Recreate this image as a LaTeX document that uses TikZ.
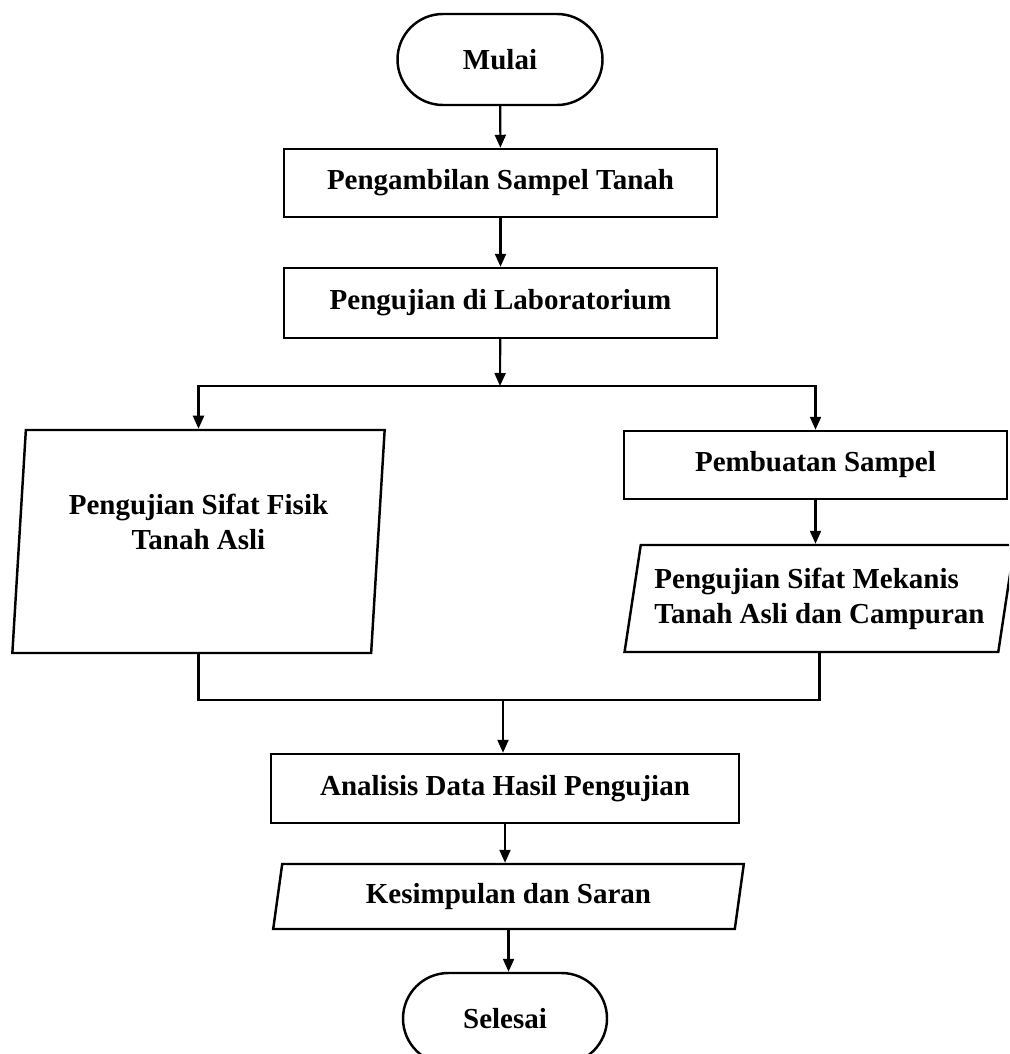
\documentclass[tikz,border=0pt]{standalone}
\usepackage{fontspec}
\setmainfont{Liberation Serif}
\usetikzlibrary{shapes.geometric,shapes.misc,arrows.meta}

\tikzset{
  box/.style={
    draw,
    line width=1.4pt,
    inner sep=0pt,
    font=\fontsize{16.5}{19.8}\selectfont\bfseries
  },
  mulai/.style={
    box,
    rounded rectangle,
    minimum width=41mm,
    minimum height=18.2mm
  },
  proses/.style={
    box,
    rectangle,
    minimum height=13.8mm
  },
  data/.style={
    box,
    trapezium,
    trapezium stretches=true
  },
  alur/.style={
    line width=1.2pt,
    -{Triangle[length=2.6mm,width=2.2mm]}
  }
}

\begin{document}
\begin{tikzpicture}[x=0.2mm,y=-0.2mm]
    \useasboundingbox (0,0) rectangle (1009,1054);
    \clip (0,0) rectangle (1009,1054);
    \node[mulai] at (500,59.5) (mulai) {Mulai};
    \node[proses, minimum width=86.6mm, minimum height=13.6mm] at (500.5,183) (ambil) {Pengambilan Sampel Tanah};
    \node[proses, minimum width=86.6mm, minimum height=14mm] at (500.5,303) (lab) {Pengujian di Laboratorium};
    \node[data, trapezium left angle=83.9, trapezium right angle=96.1,
      minimum width=74.6mm, minimum height=44.6mm, align=center] at (198.5,541.5) (fisik)
      {Pengujian Sifat Fisik\\Tanah Asli\\[1mm]};
    \node[proses, minimum width=76.6mm, minimum height=13.6mm] at (815.5,465) (buat) {Pembuatan Sampel};
    \node[data, trapezium left angle=76.3, trapezium right angle=103.7,
      minimum width=78.2mm, minimum height=21.4mm, align=left] at (819.5,598.5) (mekanis)
      {Pengujian Sifat Mekanis\\Tanah Asli dan Campuran};
    \node[proses, minimum width=93.6mm] at (505,788.5) (analisis) {Analisis Data Hasil Pengujian};
    \node[data, trapezium left angle=77.8, trapezium right angle=102.2,
      minimum width=94.2mm, minimum height=13mm] at (508.5,896.5) (simpul) {Kesimpulan dan Saran};
    \node[mulai, minimum width=40.8mm] at (505,1018.5) (selesai) {Selesai};
    \coordinate (bagi) at (500,386);
    \coordinate (gabung) at (503,700);
    \draw[alur] (mulai) -- (ambil);
    \draw[alur] (ambil) -- (lab);
    \draw[alur] (lab) -- (bagi);
    \draw[alur] (bagi) -| (fisik.north);
    \draw[alur] (bagi) -| (buat.north);
    \draw[alur] (buat.south) -- (buat.south |- mekanis.north);
    \draw[line width=1.2pt] (fisik.south) |- (gabung) -| (mekanis.south);
    \draw[alur] (gabung) -- (gabung |- analisis.north);
    \draw[alur] (analisis.south) -- (analisis.south |- simpul.north);
    \draw[alur] (simpul.south) -- (simpul.south |- selesai.north);
\end{tikzpicture}
\end{document}
